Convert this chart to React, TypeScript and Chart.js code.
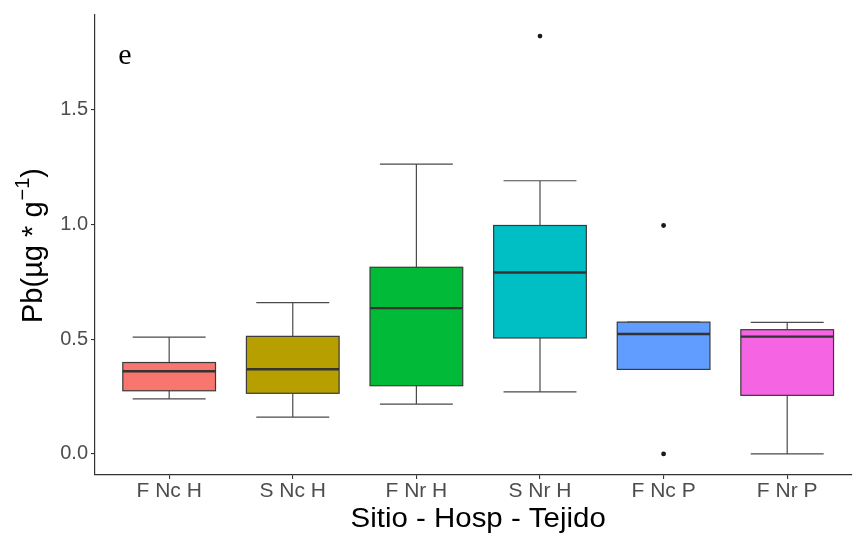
import React, { useEffect, useRef } from "react";
import { Chart, registerables } from "chart.js";

Chart.register(...registerables);

const categories = ["F Nc H", "S Nc H", "F Nr H", "S Nr H", "F Nc P", "F Nr P"];
const whiskerLow = [0.24, 0.16, 0.217, 0.27, 0.368, 0.0];
const q1 = [0.275, 0.264, 0.297, 0.505, 0.368, 0.255];
const median = [0.36, 0.369, 0.635, 0.79, 0.522, 0.511];
const q3 = [0.398, 0.512, 0.813, 0.995, 0.574, 0.541];
const whiskerHigh = [0.509, 0.659, 1.262, 1.19, 0.574, 0.573];
const fillColors = ["#F8766D", "#B79F00", "#00BA38", "#00BFC4", "#619CFF", "#F564E3"];
const outlierX = [3, 4, 4];
const outlierY = [1.82, 0.995, 0.0];
const yTickValues = [0, 0.5, 1.0, 1.5];
const xTickValues = [0, 1, 2, 3, 4, 5];

const SANS = "'Liberation Sans', Arial, Helvetica, sans-serif";

const boxPlugin = {
  id: "boxes",
  beforeDatasetsDraw(chart: any) {
    const { ctx, chartArea } = chart;
    const xs = chart.scales.x;
    const ys = chart.scales.y;
    ctx.save();
    ctx.beginPath();
    ctx.rect(chartArea.left, chartArea.top, chartArea.right - chartArea.left, chartArea.bottom - chartArea.top);
    ctx.clip();
    const boxHalf = 0.375;
    const capHalf = 0.295;
    for (let i = 0; i < categories.length; i++) {
      const cx = xs.getPixelForValue(i);
      const bl = xs.getPixelForValue(i - boxHalf);
      const br = xs.getPixelForValue(i + boxHalf);
      const cl = xs.getPixelForValue(i - capHalf);
      const cr = xs.getPixelForValue(i + capHalf);
      const yLo = ys.getPixelForValue(whiskerLow[i]);
      const yQ1 = ys.getPixelForValue(q1[i]);
      const yMed = ys.getPixelForValue(median[i]);
      const yQ3 = ys.getPixelForValue(q3[i]);
      const yHi = ys.getPixelForValue(whiskerHigh[i]);
      ctx.strokeStyle = "#4a4a4a";
      ctx.lineWidth = 1.2;
      ctx.beginPath();
      ctx.moveTo(cx, yQ3);
      ctx.lineTo(cx, yHi);
      ctx.moveTo(cx, yQ1);
      ctx.lineTo(cx, yLo);
      ctx.moveTo(cl, yHi);
      ctx.lineTo(cr, yHi);
      ctx.moveTo(cl, yLo);
      ctx.lineTo(cr, yLo);
      ctx.stroke();
      ctx.fillStyle = fillColors[i];
      ctx.fillRect(bl, yQ3, br - bl, yQ1 - yQ3);
      ctx.strokeStyle = "#3a3a3a";
      ctx.lineWidth = 1.2;
      ctx.strokeRect(bl, yQ3, br - bl, yQ1 - yQ3);
      ctx.strokeStyle = "#333333";
      ctx.lineWidth = 2.4;
      ctx.beginPath();
      ctx.moveTo(bl, yMed);
      ctx.lineTo(br, yMed);
      ctx.stroke();
    }
    ctx.restore();
  },
  afterDraw(chart: any) {
    const { ctx, chartArea } = chart;
    const xs = chart.scales.x;
    ctx.save();
    ctx.fillStyle = "#000000";
    ctx.font = `27px ${SANS}`;
    ctx.textAlign = "center";
    ctx.textBaseline = "alphabetic";
    ctx.translate(xs.getPixelForValue(2.5), 527);
    ctx.scale(1.09, 1);
    ctx.fillText("Sitio - Hosp - Tejido", 0, 0);
    ctx.restore();

    ctx.save();
    ctx.fillStyle = "#000000";
    const main = "Pb(µg * g";
    const sup = "−1";
    const close = ")";
    const mainFont = `29px ${SANS}`;
    const supFont = `20px ${SANS}`;
    ctx.font = mainFont;
    const wMain = ctx.measureText(main).width;
    const wClose = ctx.measureText(close).width;
    ctx.font = supFont;
    const wSup = ctx.measureText(sup).width;
    const total = wMain + wSup + wClose;
    const cy = (chartArea.top + chartArea.bottom) / 2 + 1;
    ctx.translate(42, cy);
    ctx.rotate(-Math.PI / 2);
    ctx.textAlign = "left";
    ctx.textBaseline = "alphabetic";
    let x0 = -total / 2;
    ctx.font = mainFont;
    ctx.fillText(main, x0, 0);
    x0 += wMain;
    ctx.font = supFont;
    ctx.fillText(sup, x0 + 1, -13);
    x0 += wSup + 1;
    ctx.font = mainFont;
    ctx.fillText(close, x0, 0);
    ctx.restore();

    ctx.save();
    ctx.fillStyle = "#000000";
    ctx.font = "30px 'Liberation Serif', 'Times New Roman', serif";
    ctx.textAlign = "center";
    ctx.textBaseline = "alphabetic";
    ctx.fillText("e", 125, 64);
    ctx.restore();
  },
};

export default function App() {
  const ref = useRef<HTMLCanvasElement | null>(null);
  useEffect(() => {
    if (!ref.current) return;
    const chart = new Chart(ref.current, {
      type: "scatter",
      data: {
        datasets: [
          {
            label: "outliers",
            data: outlierX.map((x, i) => ({ x, y: outlierY[i] })),
            pointRadius: 2.4,
            pointBackgroundColor: "#1a1a1a",
            pointBorderWidth: 0,
            pointHoverRadius: 2.4,
          },
        ],
      },
      options: {
        responsive: false,
        animation: false,
        events: [],
        layout: { padding: { top: 12, left: 0, right: 0, bottom: 0 } },
        plugins: {
          legend: { display: false },
          tooltip: { enabled: false },
          title: { display: false },
        },
        scales: {
          x: {
            type: "linear",
            min: -0.6,
            max: 5.521,
            afterBuildTicks: (axis: any) => {
              axis.ticks = xTickValues.map((v) => ({ value: v }));
            },
            afterFit: (axis: any) => {
              axis.height = 60;
            },
            ticks: {
              autoSkip: false,
              maxRotation: 0,
              padding: 0,
              color: "#4d4d4d",
              font: { family: SANS, size: 21 },
              callback: (_v: any, i: number) => categories[i],
            },
            grid: { drawOnChartArea: false, drawTicks: true, tickLength: 4, color: "#333333", lineWidth: 1.1 },
            border: { display: true, color: "#333333", width: 1.2 },
          },
          y: {
            type: "linear",
            min: -0.092,
            max: 1.912,
            afterBuildTicks: (axis: any) => {
              axis.ticks = yTickValues.map((v) => ({ value: v }));
            },
            afterFit: (axis: any) => {
              axis.width = 95;
            },
            ticks: {
              padding: 3,
              color: "#4d4d4d",
              font: { family: SANS, size: 20 },
              callback: (v: any) => Number(v).toFixed(1),
            },
            grid: { drawOnChartArea: false, drawTicks: true, tickLength: 4, color: "#333333", lineWidth: 1.1 },
            border: { display: true, color: "#333333", width: 1.2 },
          },
        },
      },
      plugins: [boxPlugin],
    });
    return () => chart.destroy();
  }, []);
  return (
    <div style={{ position: "absolute", left: 0, top: 0, width: 854, height: 535, background: "#ffffff" }}>
      <canvas ref={ref} width={854} height={535} style={{ display: "block" }} />
    </div>
  );
}
